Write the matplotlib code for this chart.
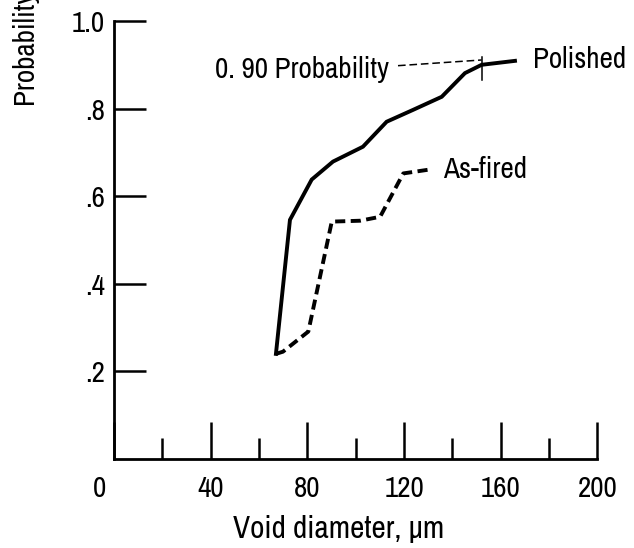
import matplotlib
matplotlib.use("Agg")
import matplotlib.pyplot as plt
from matplotlib.transforms import ScaledTranslation

# ---- data ----
polished_x = [67.0, 72.8, 81.8, 90.6, 103.0, 112.8, 123.7, 135.6, 145.2, 152.1, 165.9]
polished_y = [0.240, 0.546, 0.638, 0.679, 0.713, 0.770, 0.797, 0.827, 0.881, 0.900, 0.909]
asfired_x = [67.0, 69.9, 80.4, 90.1, 101.8, 110.1, 119.7, 130.7]
asfired_y = [0.240, 0.245, 0.291, 0.542, 0.544, 0.553, 0.652, 0.661]
x_major = [0, 40, 80, 120, 160, 200]
x_major_labels = ["0", "40", "80", "120", "160", "200"]
x_minor = [20, 60, 100, 140, 180]
y_ticks = [0.2, 0.4, 0.6, 0.8, 1.0]
y_tick_labels = [".2", ".4", ".6", ".8", "1.0"]
p90_x = 152.1
p90_prob = 0.90

plt.rcParams["font.family"] = ["Archivo Narrow", "DejaVu Sans"]
FS = 21

W, H = 634, 548
fig = plt.figure(figsize=(W / 100, H / 100), dpi=100)
ax = fig.add_axes([114 / W, (H - 459) / H, (597.4 - 114) / W, 438 / H])

ax.plot(polished_x, polished_y, color="black", lw=2.8, solid_joinstyle="miter", clip_on=False)
ax.plot(asfired_x, asfired_y, color="black", lw=2.8, linestyle=(0, (2.6, 1.4)), clip_on=False)

ax.set_xlim(0, 200)
ax.set_ylim(0, 1.0)
for s in ["top", "right"]:
    ax.spines[s].set_visible(False)
for s in ["left", "bottom"]:
    ax.spines[s].set_linewidth(2.0)

ax.set_xticks(x_major, x_major_labels)
ax.set_xticks(x_minor, minor=True)
ax.set_yticks(y_ticks, y_tick_labels)
ax.tick_params(axis="x", which="major", direction="in", length=27, width=1.8, pad=11.5, labelsize=FS)
ax.tick_params(axis="x", which="minor", direction="in", length=15, width=1.8)
ax.tick_params(axis="y", which="major", direction="in", length=23, width=1.8, pad=6.5, labelsize=FS)

# shift the "0" label left as in the original
lbl0 = ax.xaxis.get_major_ticks()[0].label1
lbl0.set_transform(lbl0.get_transform() + ScaledTranslation(-0.15, 0, fig.dpi_scale_trans))

fig.text(339 / W, (H - 538) / H, "Void diameter, µm", ha="center", va="baseline", fontsize=22.5)
fig.text(24 / W, (H - 104) / H, "Probability", rotation=90, ha="center", va="bottom", fontsize=FS)

# annotations
ax.text(173.4, 0.893, "Polished", fontsize=FS, ha="left", va="baseline", clip_on=False)
ax.text(136.1, 0.642, "As-fired", fontsize=FS, ha="left", va="baseline")
ax.text(113.6, 0.870, "0. 90 Probability", fontsize=FS, ha="right", va="baseline")
ax.plot([117.5, p90_x], [0.898, p90_prob + 0.011], color="black", lw=1.1, linestyle=(0, (5, 2.5)))
ax.plot([p90_x, p90_x], [p90_prob - 0.035, p90_prob + 0.018], color="black", lw=1.1)

fig.savefig("out.png", dpi=100)
